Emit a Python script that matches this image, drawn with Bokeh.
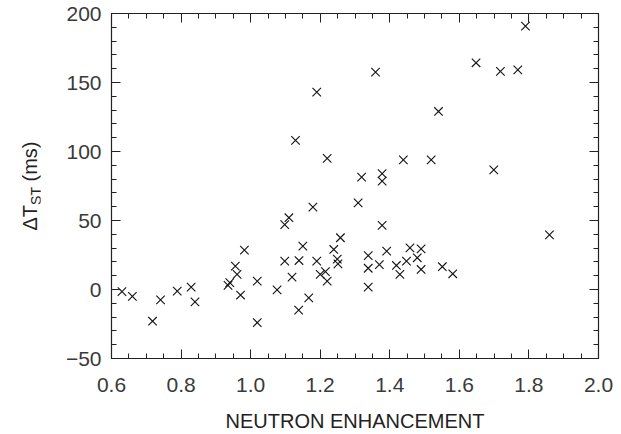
from bokeh.plotting import figure
from bokeh.models import Range1d, FixedTicker, LinearAxis, ColumnDataSource, PrintfTickFormatter, Div
from bokeh.layouts import row
from bokeh.embed import file_html
from bokeh.resources import INLINE

# Data
neutron_enh = [0.63, 0.66, 0.718, 0.741, 0.789, 0.829, 0.84, 0.935, 0.94, 0.956, 0.961, 0.971,
               0.982, 1.019, 1.019, 1.076, 1.098, 1.11, 1.098, 1.119, 1.138, 1.139, 1.15, 1.167,
               1.179, 1.19, 1.19, 1.2, 1.215, 1.22, 1.22, 1.239, 1.249, 1.251, 1.258, 1.129,
               1.309, 1.319, 1.338, 1.338, 1.338, 1.359, 1.37, 1.378, 1.378, 1.378, 1.391, 1.419,
               1.429, 1.439, 1.448, 1.458, 1.479, 1.49, 1.49, 1.519, 1.54, 1.551, 1.581, 1.648,
               1.699, 1.718, 1.768, 1.79, 1.859]
delta_t_st = [-1.5, -5, -23, -7.5, -1.2, 1.7, -9, 3, 5, 17, 11, -4,
              28.5, 6, -24, -0.3, 47, 52, 20.5, 9, -15, 21, 31.5, -6,
              59.7, 143, 20.5, 11, 13, 6, 95, 29, 22, 18.5, 37.5, 108,
              62.8, 81.5, 24.6, 15.4, 1.7, 157.5, 18, 46.4, 84, 78.5, 27.8, 17.4,
              11, 94, 20.5, 30.2, 23, 29.5, 14.5, 94, 129, 16.5, 11.4, 164.3,
              86.7, 158, 159.2, 190.8, 39.6]

x_ticks = [0.6, 0.8, 1.0, 1.2, 1.4, 1.6, 1.8, 2.0]
y_ticks = [-50, 0, 50, 100, 150, 200]
x_minor = [round(0.6 + 0.05 * i, 2) for i in range(29)]
y_minor = [-50 + 10 * i for i in range(26)]
x_label = "NEUTRON ENHANCEMENT"
y_label_main, y_label_sub, y_label_unit = "ΔT", "ST", " (ms)"

AX = "#222222"
TICKFONT = "Liberation Sans"
LEFT_W = 40

p = figure(width=621 - LEFT_W, height=434, output_backend="svg", toolbar_location=None,
           x_range=Range1d(0.6, 2.0), y_range=Range1d(-50, 200),
           min_border_left=111 - LEFT_W, min_border_right=23, min_border_top=13, min_border_bottom=76)
p.background_fill_color = "white"
p.border_fill_color = "white"
p.outline_line_color = AX
p.grid.visible = False

src = ColumnDataSource(dict(x=neutron_enh, y=delta_t_st))
p.scatter("x", "y", source=src, marker="x", size=12, line_color="#111111", line_width=1.1)

def style_axis(ax, ticks, minor, show_labels):
    ax.ticker = FixedTicker(ticks=ticks, minor_ticks=minor)
    ax.axis_line_color = AX
    ax.axis_line_width = 1.2
    ax.major_tick_line_color = AX
    ax.minor_tick_line_color = AX
    ax.major_tick_in = 9
    ax.major_tick_out = 0
    ax.minor_tick_in = 5
    ax.minor_tick_out = 0
    if show_labels:
        ax.major_label_text_font = TICKFONT
        ax.major_label_text_font_size = "21px"
        ax.major_label_text_color = "#3a3a3a"
    else:
        ax.major_label_text_font_size = "0px"
        ax.major_label_text_color = None

style_axis(p.xaxis[0], x_ticks, x_minor, True)
style_axis(p.yaxis[0], y_ticks, y_minor, True)
p.xaxis[0].formatter = PrintfTickFormatter(format="%.1f")
p.xaxis[0].major_label_standoff = 19
p.yaxis[0].major_label_standoff = 10
p.xaxis[0].axis_label = x_label
p.xaxis[0].axis_label_text_font = "Liberation Sans"
p.xaxis[0].axis_label_text_font_size = "20px"
p.xaxis[0].axis_label_text_font_style = "normal"
p.xaxis[0].axis_label_text_color = "#222222"
p.xaxis[0].axis_label_standoff = 15

top = LinearAxis()
right = LinearAxis()
style_axis(top, x_ticks, x_minor, False)
style_axis(right, y_ticks, y_minor, False)
p.add_layout(top, "above")
p.add_layout(right, "right")

# Rotated y-axis label with a subscript, as real HTML text
html = (
    '<div style="position:absolute; left:30px; top:186px; '
    'transform: translate(-50%, -50%) rotate(-90deg); white-space:nowrap; '
    "font-family:'Liberation Sans', Arial, sans-serif; font-size:20px; color:#222222; line-height:1;\">"
    f'{y_label_main}<span style="font-size:14px; position:relative; top:4px;">{y_label_sub}</span>{y_label_unit}'
    '</div>'
)
div = Div(text=html, width=LEFT_W, height=434,
          styles={"position": "relative", "overflow": "visible", "margin": "0", "padding": "0"})

layout = row(div, p, spacing=0)
open("out.html", "w").write(file_html(layout, INLINE))
